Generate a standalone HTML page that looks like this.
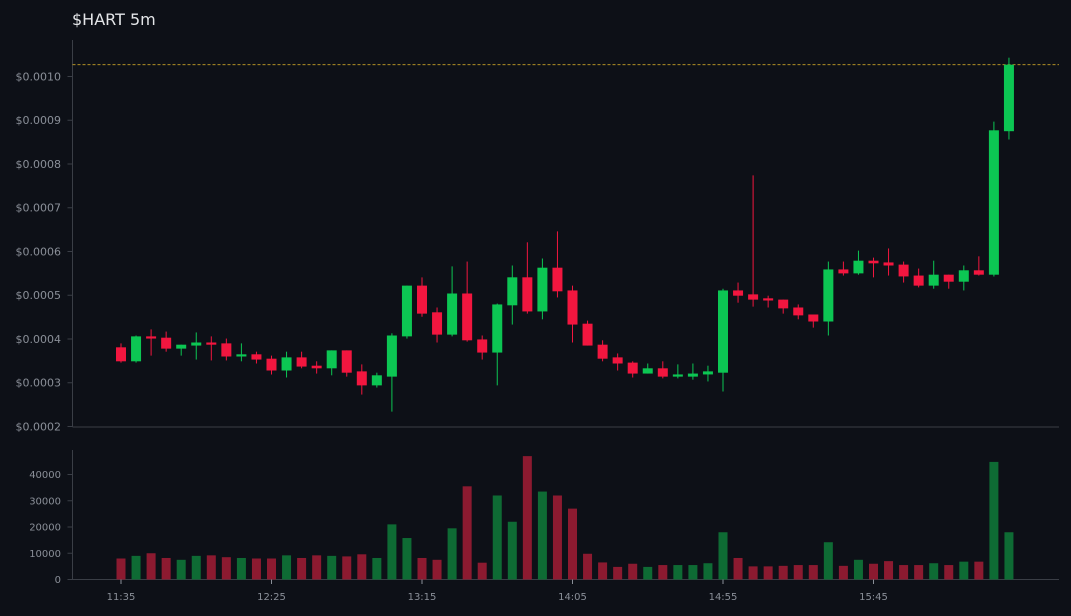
<!DOCTYPE html>
<html><head><meta charset="utf-8"><style>
html,body{margin:0;padding:0;background:#0d1017;}
svg{display:block;font-family:"DejaVu Sans","Liberation Sans",sans-serif;}
</style></head><body>
<svg id="chart" width="1071" height="616" viewBox="0 0 1071 616" xmlns="http://www.w3.org/2000/svg">
<rect width="1071" height="616" fill="#0d1017"/>
<text x="72" y="25" fill="#e3e5e8" font-size="16">$HART 5m</text>
<g id="grid"></g>
<g id="marks"></g>
</svg>
<script>
const opens  = [0.000381,0.000349,0.000406,0.000403,0.000378,0.000385,0.000392,0.000390,0.000360,0.000365,0.000355,0.000328,0.000358,0.000339,0.000333,0.000374,0.000326,0.000294,0.000314,0.000406,0.000522,0.000461,0.000410,0.000504,0.000399,0.000369,0.000477,0.000541,0.000463,0.000563,0.000511,0.000435,0.000387,0.000358,0.000346,0.000321,0.000333,0.000314,0.000314,0.000319,0.000323,0.000511,0.000502,0.000493,0.000490,0.000472,0.000456,0.000440,0.000559,0.000550,0.000579,0.000575,0.000570,0.000545,0.000522,0.000547,0.000531,0.000557,0.000547,0.000875];
const closes = [0.000349,0.000406,0.000401,0.000378,0.000387,0.000392,0.000387,0.000360,0.000365,0.000353,0.000328,0.000358,0.000337,0.000333,0.000374,0.000323,0.000294,0.000317,0.000408,0.000522,0.000458,0.000410,0.000504,0.000397,0.000369,0.000479,0.000541,0.000463,0.000563,0.000509,0.000433,0.000385,0.000355,0.000344,0.000321,0.000333,0.000314,0.000319,0.000321,0.000326,0.000511,0.000499,0.000490,0.000488,0.000470,0.000454,0.000440,0.000559,0.000550,0.000579,0.000573,0.000568,0.000543,0.000522,0.000547,0.000531,0.000557,0.000547,0.000877,0.001027];
const highs  = [0.000390,0.000408,0.000422,0.000417,0.000387,0.000415,0.000406,0.000401,0.000390,0.000371,0.000362,0.000371,0.000371,0.000349,0.000374,0.000374,0.000342,0.000323,0.000413,0.000522,0.000541,0.000472,0.000566,0.000577,0.000408,0.000481,0.000568,0.000621,0.000584,0.000646,0.000522,0.000442,0.000397,0.000367,0.000349,0.000344,0.000349,0.000342,0.000344,0.000339,0.000515,0.000529,0.000774,0.000499,0.000490,0.000479,0.000456,0.000577,0.000577,0.000602,0.000586,0.000607,0.000577,0.000561,0.000579,0.000547,0.000568,0.000589,0.000897,0.001043];
const lows   = [0.000346,0.000346,0.000362,0.000371,0.000362,0.000353,0.000351,0.000351,0.000349,0.000344,0.000319,0.000312,0.000333,0.000321,0.000317,0.000314,0.000273,0.000289,0.000234,0.000401,0.000451,0.000392,0.000406,0.000394,0.000353,0.000294,0.000433,0.000458,0.000445,0.000495,0.000392,0.000385,0.000349,0.000328,0.000312,0.000321,0.000310,0.000310,0.000307,0.000303,0.000280,0.000483,0.000474,0.000472,0.000458,0.000445,0.000426,0.000408,0.000545,0.000547,0.000541,0.000545,0.000529,0.000518,0.000515,0.000515,0.000511,0.000545,0.000543,0.000856];
const volumes = [8000,9000,10000,8200,7500,9000,9200,8500,8200,8000,8000,9200,8200,9200,9000,8800,9600,8200,21000,15800,8200,7500,19500,35500,6400,32000,22000,47000,33500,32000,27000,9800,6500,4800,6000,4800,5500,5500,5500,6200,18000,8200,5000,5000,5200,5500,5500,14200,5200,7500,6000,7000,5500,5500,6200,5500,6800,6800,44800,18000];
const priceTicks = [0.0002,0.0003,0.0004,0.0005,0.0006,0.0007,0.0008,0.0009,0.0010];
const volTicks = [0,10000,20000,30000,40000];
const timeLabels = ["11:35","12:25","13:15","14:05","14:55","15:45"];
const timeLabelIdx = [0,10,20,30,40,50];
const lastPrice = 0.001027;

const NS="http://www.w3.org/2000/svg";
const grid=document.getElementById('grid'), marks=document.getElementById('marks');
function el(tag,attrs,parent){const e=document.createElementNS(NS,tag);for(const k in attrs)e.setAttribute(k,attrs[k]);parent.appendChild(e);return e;}
const X0=72.5, X1=1059;
const yP = p => 426.5 - (p-0.0002)/0.0008*350;
const yV = v => 579.5 - v/40000*105;
const xI = i => 121 + i*15.05;
const axisCol="#3a3e46", tickCol="#8a8f98";

let a;
a=el('line',{x1:X0,y1:40,x2:X0,y2:427,stroke:axisCol},grid);


a=el('line',{x1:X0,y1:427,x2:X1,y2:427,stroke:axisCol},grid);


a=el('line',{x1:X0,y1:450,x2:X0,y2:579.5,stroke:axisCol},grid);


a=el('line',{x1:X0,y1:579.5,x2:X1,y2:579.5,stroke:axisCol},grid);



priceTicks.forEach(p=>{
  const y=yP(p);
  el('line',{x1:X0-5,y1:y,x2:X0,y2:y,stroke:axisCol},grid);
  const t=el('text',{x:X0-11.5,y:y+3.8,fill:tickCol,'font-size':11,'text-anchor':'end'},grid);
  t.textContent='$'+p.toFixed(4);
  
  
});
volTicks.forEach(v=>{
  const y=yV(v);
  el('line',{x1:X0-5,y1:y,x2:X0,y2:y,stroke:axisCol},grid);
  const t=el('text',{x:X0-11.5,y:y+3.5,fill:tickCol,'font-size':10,'text-anchor':'end'},grid);
  t.textContent=String(v);
  
  
});
timeLabels.forEach((lab,k)=>{
  const x=xI(timeLabelIdx[k]);
  el('line',{x1:x,y1:579.5,x2:x,y2:584,stroke:tickCol},grid);
  const t=el('text',{x:x,y:600,fill:tickCol,'font-size':10,'text-anchor':'middle'},grid);
  t.textContent=lab;
  
  
});

const ly=yP(lastPrice);
a=el('line',{x1:X0,y1:ly,x2:X1,y2:ly,stroke:'#c9a227','stroke-width':0.8,'stroke-dasharray':'3,2'},grid);



const G="#0cc653", R="#f2163f", VG="#0e6b34", VR="#8c1a30";
opens.forEach((o,i)=>{
  const c=closes[i], up=c>=o, col=up?G:R, x=xI(i);
  const w=el('line',{x1:x,y1:yP(highs[i]),x2:x,y2:yP(lows[i]),stroke:col,'stroke-width':1},marks);
  
  
  const top=yP(Math.max(o,c)), bot=yP(Math.min(o,c));
  const b=el('rect',{x:x-5,y:top,width:10,height:Math.max(1.2,bot-top),fill:col},marks);
  
  
  const vy=yV(volumes[i]);
  const v=el('rect',{x:x-4.5,y:vy,width:9,height:579.5-vy,fill:up?VG:VR},marks);
  
  
});
</script>
</body></html>
